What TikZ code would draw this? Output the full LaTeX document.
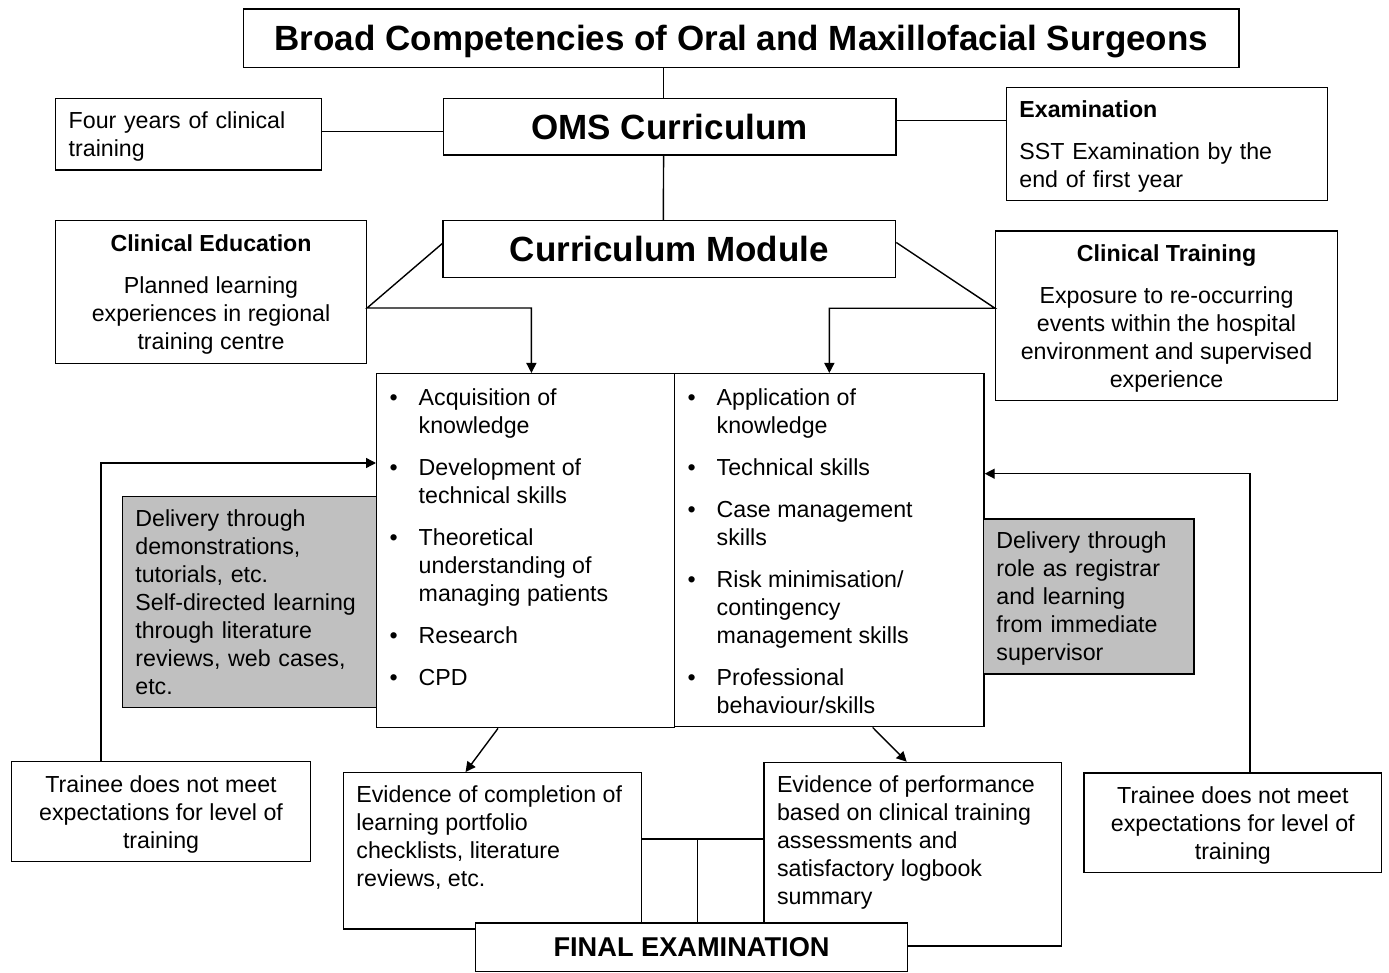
\documentclass[tikz,border=0pt]{standalone}
\usepackage{fontspec}
\setmainfont{Liberation Sans}
\usetikzlibrary{arrows.meta}

\definecolor{panelgrey}{RGB}{192,192,192}
\newcommand{\bodyfont}{\fontsize{11.6pt}{14pt}\selectfont}
\newcommand{\bigfont}{\fontsize{17.5pt}{21pt}\selectfont\bfseries}
\newcommand{\bitem}[1]{\noindent\hangindent=21pt\hangafter=1\strut\hspace*{6.5pt}\makebox[14.5pt][l]{\textbullet}#1\par\vspace{7pt}}

\begin{document}
\begin{tikzpicture}[x=0.5pt, y=-0.5pt, line width=0.7pt, >={Triangle[length=5pt,width=5pt]},
  box/.style={draw, fill=white, anchor=north west, font=\bodyfont, inner xsep=6.5pt, inner ysep=0pt},
  card/.style={box, text depth=0pt},
  grey/.style={box, fill=panelgrey}]
\useasboundingbox (0,0) rectangle (1389,973);

% Top of the chart %
\node[card, minimum width=497.7pt, minimum height=29.2pt, font=\bigfont] (title) at (243,8.3) {Broad Competencies of Oral and Maxillofacial Surgeons};
\node[box, minimum width=226.2pt, minimum height=28.3pt, font=\bigfont] (oms) at (442.7,97.7) {OMS Curriculum};
\node[box, minimum width=226.3pt, minimum height=28.4pt, font=\bigfont] (module) at (442.3,220) {Curriculum Module};
\node[box, minimum width=133pt, minimum height=35.8pt, text width=120pt, text depth=14pt, align=left] (years) at (55,97.7) {Four years of clinical\\training};
\node[box, minimum width=160.5pt, minimum height=56.65pt, text width=147.5pt, text depth=35pt, align=left] (exam) at (1005.7,86.7) {\textbf{Examination}\\[7pt]SST Examination by the\\end of first year};
\node[card, minimum width=155.35pt, minimum height=71.5pt, align=center] (clined) at (55,220) {\textbf{Clinical Education}\\[7pt]Planned learning\\experiences in regional\\training centre};
\node[card, minimum width=170.85pt, minimum height=84.75pt, align=center] (cltrain) at (995,230.5) {\textbf{Clinical Training}\\[7pt]Exposure to re-occurring\\events within the hospital\\environment and supervised\\experience};

% Module contents %
\node[box, inner xsep=0pt, inner ysep=6.2pt] (learn) at (376,373) {\parbox[t][164.6pt][t]{149pt}{\bodyfont
  \bitem{Acquisition of\\knowledge}
  \bitem{Development of\\technical skills}
  \bitem{Theoretical\\understanding of\\managing patients}
  \bitem{Research}
  \bitem{CPD}}};
\node[box, inner xsep=0pt, inner ysep=6.2pt] (apply) at (674,373) {\parbox[t][164.1pt][t]{154.65pt}{\bodyfont
  \bitem{Application of\\knowledge}
  \bitem{Technical skills}
  \bitem{Case management\\skills}
  \bitem{Risk minimisation/\\contingency\\management skills}
  \bitem{Professional\\behaviour/skills}}};
\node[grey, minimum width=127.15pt, minimum height=105.5pt, text width=114.15pt, align=left] (demo) at (121.7,495.7) {Delivery through\\demonstrations,\\tutorials, etc.\\Self-directed learning\\through literature\\reviews, web cases,\\etc.};
\node[grey, minimum width=105.3pt, minimum height=77.5pt, text width=92.3pt, text depth=56pt, align=left] (registrar) at (982.7,518.3) {Delivery through\\role as registrar\\and learning\\from immediate\\supervisor};

% Bottom row %
\node[card, minimum width=149.35pt, minimum height=50pt, align=center] (failL) at (11,761) {Trainee does not meet\\expectations for level of\\training};
\node[card, minimum width=148.85pt, minimum height=49.7pt, align=center] (failR) at (1083.3,772.3) {Trainee does not meet\\expectations for level of\\training};
\node[box, inner ysep=5.2pt] (evidL) at (342.7,772) {\parbox[t][67.75pt][t]{136.15pt}{\bodyfont\raggedright\strut Evidence of completion of\\learning portfolio\\checklists, literature\\reviews, etc.}};
\node[box, inner ysep=5.2pt] (evidR) at (763.3,761.7) {\parbox[t][81.4pt][t]{135.7pt}{\bodyfont\raggedright\strut Evidence of performance\\based on clinical training\\assessments and\\satisfactory logbook\\summary}};

% Edges %
\draw ([xshift=-3pt]oms.north) -- ([xshift=-3pt]oms.north |- title.south);
\draw ([xshift=-3pt]module.north) -- ([xshift=-3pt]oms.south);
\draw ([yshift=1.4pt]years.east) -- ([yshift=1.4pt]years.east -| oms.west);
\draw ([yshift=3pt]oms.east) -- ([yshift=3pt]oms.east -| exam.west);

\draw[->] ([yshift=2.8pt]module.west) -- ([yshift=-7.9pt]clined.east) -| ([xshift=2.85pt]learn.north);
\draw[->] ([yshift=3.3pt]module.east) -- ([yshift=3.85pt]cltrain.west) -| (apply.north);

\draw[->] ([xshift=-30pt]failL.north) |- ([yshift=43.85pt]learn.west);
\draw[->] ([xshift=8.5pt]failR.north) |- ([yshift=38.25pt]apply.east);

\draw[->] ([xshift=-13.85pt]learn.south) -- ([xshift=-13.5pt]evidL.north);
\draw[->] ([xshift=21.65pt]apply.south) -- ([xshift=-3pt]evidR.north);

\draw ([yshift=6pt]evidL.east) coordinate (link) -- (link -| evidR.west);

\node[box, minimum width=215.85pt, minimum height=24.2pt, font=\fontsize{13.6pt}{16pt}\selectfont\bfseries] (final) at (475,922.3) {FINAL EXAMINATION};
\draw ([xshift=3pt]final.north) -- ([xshift=3pt]final.north |- link);

\end{tikzpicture}
\end{document}
